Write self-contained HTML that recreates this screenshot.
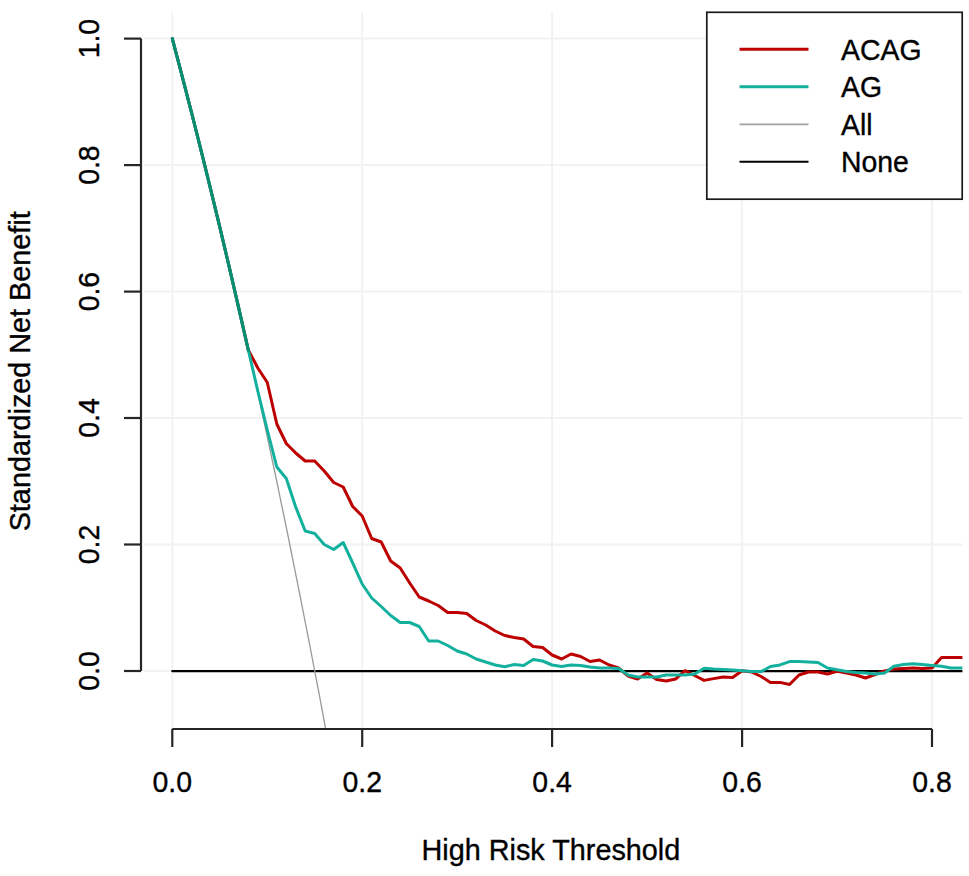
<!DOCTYPE html>
<html><head><meta charset="utf-8"><style>
html,body{margin:0;padding:0;background:#fff;}
svg{display:block;}
text{font-family:"Liberation Sans",sans-serif;font-size:28.4px;fill:#000;stroke:#000;stroke-width:0.35px;}
</style></head><body>
<svg width="969" height="876" viewBox="0 0 969 876">
<rect width="969" height="876" fill="#fff"/>
<g stroke="#F2F2F2" stroke-width="2" fill="none">
<line x1="172.3" y1="12" x2="172.3" y2="729"/>
<line x1="362.2" y1="12" x2="362.2" y2="729"/>
<line x1="552.1" y1="12" x2="552.1" y2="729"/>
<line x1="742.1" y1="12" x2="742.1" y2="729"/>
<line x1="932.0" y1="12" x2="932.0" y2="729"/>
<line x1="144" y1="671.0" x2="962.4" y2="671.0"/>
<line x1="144" y1="544.5" x2="962.4" y2="544.5"/>
<line x1="144" y1="418.0" x2="962.4" y2="418.0"/>
<line x1="144" y1="291.6" x2="962.4" y2="291.6"/>
<line x1="144" y1="165.1" x2="962.4" y2="165.1"/>
<line x1="144" y1="38.6" x2="962.4" y2="38.6"/>
</g>
<defs><clipPath id="pr"><rect x="141" y="12" width="821.4" height="717"/></clipPath></defs>
<g clip-path="url(#pr)" fill="none" stroke-linejoin="round" stroke-linecap="round">
<line x1="172.3" y1="671.2" x2="962.4" y2="671.2" stroke="#000" stroke-width="2.2"/>
<path d="M172.3,38.6 L177.0,56.6 L181.8,74.8 L186.5,93.2 L191.3,111.7 L196.0,130.5 L200.8,149.4 L205.5,168.6 L210.3,187.9 L215.0,207.5 L219.8,227.2 L224.5,247.2 L229.3,267.3 L234.0,287.7 L238.8,308.3 L243.5,329.2 L248.3,350.2 L253.0,371.5 L257.8,393.0 L262.5,414.8 L267.3,436.8 L272.0,459.0 L276.8,481.5 L281.5,504.3 L286.3,527.3 L291.0,550.5 L295.7,574.1 L300.5,597.9 L305.2,622.0 L310.0,646.3 L314.7,671.0 L319.5,695.9 L324.2,721.2 L329.0,746.7" stroke="#999999" stroke-width="1.3"/>
<path d="M172.3,38.6 L181.8,74.8 L191.3,111.7 L200.8,149.4 L210.3,187.9 L219.8,227.2 L229.3,267.3 L238.8,308.3 L248.3,350.0 L257.8,368.0 L267.3,382.5 L276.8,424.0 L286.3,443.5 L295.7,453.0 L305.2,461.0 L314.7,461.0 L324.2,471.0 L333.7,482.5 L343.2,487.0 L352.7,506.5 L362.2,516.0 L371.7,538.5 L381.2,542.0 L390.7,561.0 L400.2,568.0 L409.7,583.0 L419.2,597.0 L428.7,601.0 L438.2,605.5 L447.7,612.5 L457.2,612.5 L466.7,613.5 L476.2,620.5 L485.7,625.0 L495.2,631.0 L504.7,635.5 L514.2,637.5 L523.7,639.0 L533.1,646.5 L542.6,647.5 L552.1,655.0 L561.6,659.0 L571.1,654.0 L580.6,656.5 L590.1,661.5 L599.6,660.0 L609.1,665.0 L618.6,668.0 L628.1,676.0 L637.6,679.0 L647.1,673.0 L656.6,679.5 L666.1,681.0 L675.6,679.0 L685.1,670.7 L694.6,675.5 L704.1,680.4 L713.6,678.6 L723.1,677.0 L732.6,677.4 L742.1,670.8 L751.6,672.0 L761.1,676.5 L770.5,682.4 L780.0,682.4 L789.5,684.5 L799.0,675.0 L808.5,672.0 L818.0,672.0 L827.5,674.0 L837.0,671.2 L846.5,673.0 L856.0,675.0 L865.5,678.0 L875.0,674.5 L884.5,671.0 L894.0,669.0 L903.5,668.4 L913.0,668.1 L922.5,668.4 L932.0,668.1 L941.5,657.5 L951.0,657.5 L960.5,657.5 L970.0,657.5" stroke="#BC0000" stroke-width="3"/>
<path d="M172.3,38.6 L181.8,74.8 L191.3,111.7 L200.8,149.4 L210.3,187.9 L219.8,227.2 L229.3,267.3 L238.8,308.3 L248.3,350.0 L257.8,391.0 L267.3,430.0 L276.8,467.0 L286.3,478.5 L295.7,507.0 L305.2,531.0 L314.7,533.5 L324.2,544.5 L333.7,549.5 L343.2,542.5 L352.7,563.0 L362.2,584.0 L371.7,598.0 L381.2,606.5 L390.7,615.5 L400.2,622.5 L409.7,622.5 L419.2,626.5 L428.7,641.0 L438.2,641.0 L447.7,645.5 L457.2,651.0 L466.7,654.0 L476.2,659.0 L485.7,662.0 L495.2,665.0 L504.7,666.7 L514.2,664.5 L523.7,665.5 L533.1,659.5 L542.6,661.0 L552.1,665.0 L561.6,666.5 L571.1,665.0 L580.6,665.5 L590.1,667.0 L599.6,668.0 L609.1,668.0 L618.6,668.5 L628.1,675.0 L637.6,677.0 L647.1,677.0 L656.6,677.0 L666.1,675.0 L675.6,675.0 L685.1,675.0 L694.6,674.0 L704.1,668.2 L713.6,669.1 L723.1,669.6 L732.6,670.0 L742.1,670.7 L751.6,671.6 L761.1,671.6 L770.5,666.5 L780.0,664.9 L789.5,661.6 L799.0,661.6 L808.5,661.9 L818.0,662.5 L827.5,668.0 L837.0,669.8 L846.5,671.5 L856.0,672.5 L865.5,673.0 L875.0,674.0 L884.5,673.0 L894.0,666.3 L903.5,664.6 L913.0,663.7 L922.5,664.6 L932.0,665.4 L941.5,666.3 L951.0,668.0 L960.5,668.0 L970.0,668.0" stroke="#14B09E" stroke-width="3"/>
<path d="M172.3,38.6 L181.8,74.8 L191.3,111.7 L200.8,149.4 L210.3,187.9 L219.8,227.2 L229.3,267.3 L238.8,308.3 L248.3,350.2" stroke="#078E70" stroke-width="3"/>
</g>
<g stroke="#262626" stroke-width="2.2" fill="none">
<line x1="141" y1="671.0" x2="141" y2="38.6"/>
<line x1="124" y1="671.0" x2="141" y2="671.0"/>
<line x1="124" y1="544.5" x2="141" y2="544.5"/>
<line x1="124" y1="418.0" x2="141" y2="418.0"/>
<line x1="124" y1="291.6" x2="141" y2="291.6"/>
<line x1="124" y1="165.1" x2="141" y2="165.1"/>
<line x1="124" y1="38.6" x2="141" y2="38.6"/>
<line x1="172.3" y1="729" x2="932.0" y2="729"/>
<line x1="172.3" y1="729" x2="172.3" y2="747"/>
<line x1="362.2" y1="729" x2="362.2" y2="747"/>
<line x1="552.1" y1="729" x2="552.1" y2="747"/>
<line x1="742.1" y1="729" x2="742.1" y2="747"/>
<line x1="932.0" y1="729" x2="932.0" y2="747"/>
</g>
<text transform="translate(99.4,671.0) rotate(-90) scale(1,1.05)" text-anchor="middle">0.0</text>
<text transform="translate(99.4,544.5) rotate(-90) scale(1,1.05)" text-anchor="middle">0.2</text>
<text transform="translate(99.4,418.0) rotate(-90) scale(1,1.05)" text-anchor="middle">0.4</text>
<text transform="translate(99.4,291.6) rotate(-90) scale(1,1.05)" text-anchor="middle">0.6</text>
<text transform="translate(99.4,165.1) rotate(-90) scale(1,1.05)" text-anchor="middle">0.8</text>
<text transform="translate(99.4,38.6) rotate(-90) scale(1,1.05)" text-anchor="middle">1.0</text>
<text transform="translate(172.3,792) scale(1,1.05)" text-anchor="middle">0.0</text>
<text transform="translate(362.2,792) scale(1,1.05)" text-anchor="middle">0.2</text>
<text transform="translate(552.1,792) scale(1,1.05)" text-anchor="middle">0.4</text>
<text transform="translate(742.1,792) scale(1,1.05)" text-anchor="middle">0.6</text>
<text transform="translate(932.0,792) scale(1,1.05)" text-anchor="middle">0.8</text>
<text transform="translate(29.6,371.3) rotate(-90) scale(1,1.05)" text-anchor="middle" style="font-size:28.8px">Standardized Net Benefit</text>
<text transform="translate(550.9,860.4) scale(1,1.05)" text-anchor="middle" style="font-size:28.8px">High Risk Threshold</text>
<rect x="706.8" y="12.3" width="255.4" height="186.9" fill="#fff" stroke="#1a1a1a" stroke-width="1.7"/>
<line x1="739.5" y1="49.2" x2="808.5" y2="49.2" stroke="#BC0000" stroke-width="3"/>
<line x1="739.5" y1="86.8" x2="808.5" y2="86.8" stroke="#14B09E" stroke-width="3"/>
<line x1="739.5" y1="124.4" x2="808.5" y2="124.4" stroke="#A0A0A0" stroke-width="1.6"/>
<line x1="739.5" y1="161.8" x2="808.5" y2="161.8" stroke="#000000" stroke-width="2"/>
<text transform="translate(841,60.3) scale(1,1.05)">ACAG</text>
<text transform="translate(841,97.1) scale(1,1.05)">AG</text>
<text transform="translate(841,134.8) scale(1,1.05)">All</text>
<text transform="translate(841,172.0) scale(1,1.05)">None</text>
</svg>
</body></html>
